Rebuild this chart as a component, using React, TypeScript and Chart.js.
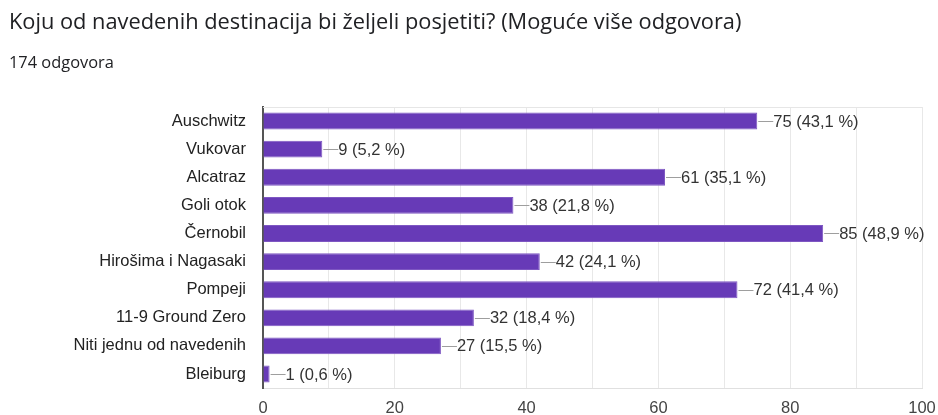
import React, { useEffect, useRef } from "react";
import { Chart, registerables } from "chart.js";

Chart.register(...registerables);

const TITLE = "Koju od navedenih destinacija bi željeli posjetiti? (Moguće više odgovora)";
const SUBTITLE = "174 odgovora";
const TOTAL = 174;
const categories = [
  "Auschwitz",
  "Vukovar",
  "Alcatraz",
  "Goli otok",
  "Černobil",
  "Hirošima i Nagasaki",
  "Pompeji",
  "11-9 Ground Zero",
  "Niti jednu od navedenih",
  "Bleiburg",
];
const counts = [75, 9, 61, 38, 85, 42, 72, 32, 27, 1];
const xTicks = [0, 20, 40, 60, 80, 100];

const SANS = '"Liberation Sans", Arial, sans-serif';
const LABEL_FONT = `16.5px ${SANS}`;

const decorPlugin = {
  id: "decor",
  beforeDatasetsDraw(chart: any) {
    const { ctx, chartArea } = chart;
    ctx.save();
    ctx.strokeStyle = "#e6e6e6";
    ctx.lineWidth = 1;
    ctx.beginPath();
    ctx.moveTo(chartArea.left, Math.round(chartArea.top) + 0.5);
    ctx.lineTo(chartArea.right, Math.round(chartArea.top) + 0.5);
    ctx.stroke();
    ctx.restore();
  },
  afterDatasetsDraw(chart: any) {
    const { ctx } = chart;
    const meta = chart.getDatasetMeta(0);
    ctx.save();
    ctx.font = LABEL_FONT;
    ctx.textBaseline = "middle";
    ctx.textAlign = "left";
    meta.data.forEach((bar: any, i: number) => {
      const v = counts[i];
      const pct = ((v / TOTAL) * 100).toFixed(1).replace(".", ",");
      const x = bar.x;
      const y = Math.round(bar.y) + 0.5;
      ctx.strokeStyle = "#9e9e9e";
      ctx.lineWidth = 1;
      ctx.beginPath();
      ctx.moveTo(x + 1, y);
      ctx.lineTo(x + 16, y);
      ctx.stroke();
      ctx.fillStyle = "#333333";
      ctx.fillText(`${v} (${pct} %)`, x + 16, bar.y + 1);
    });
    ctx.restore();
  },
  afterDraw(chart: any) {
    const { ctx } = chart;
    ctx.save();
    ctx.textBaseline = "middle";
    ctx.textAlign = "left";
    ctx.fillStyle = "#202124";
    ctx.font = '21.8px "Open Sans", Roboto, sans-serif';
    ctx.fillText(TITLE, 9, 23);
    ctx.font = '16.4px "Open Sans", Roboto, sans-serif';
    ctx.fillText(SUBTITLE, 9, 63);
    ctx.restore();
  },
};

export default function App() {
  const ref = useRef<HTMLCanvasElement | null>(null);
  useEffect(() => {
    if (!ref.current) return;
    const chart = new Chart(ref.current, {
      type: "bar",
      data: {
        labels: categories,
        datasets: [
          {
            data: counts,
            backgroundColor: "#673ab7",
            borderColor: "#7e57c2",
            borderWidth: 1,
            barPercentage: 0.6,
            categoryPercentage: 1,
          },
        ],
      },
      options: {
        indexAxis: "y",
        animation: false,
        responsive: true,
        maintainAspectRatio: false,
        layout: { padding: { top: 107, right: 16, bottom: 0, left: 0 } },
        plugins: {
          legend: { display: false },
          tooltip: { enabled: false },
          title: { display: false },
        },
        scales: {
          x: {
            min: 0,
            max: 100,
            afterFit: (s: any) => {
              s.height = 26;
              s.paddingLeft = 0;
              s.paddingRight = 0;
            },
            afterBuildTicks: (s: any) => {
              const t: any[] = [];
              for (let v = 0; v <= 100; v += 10) t.push({ value: v });
              s.ticks = t;
            },
            ticks: {
              autoSkip: false,
              maxRotation: 0,
              padding: 10,
              color: "#444",
              font: { family: SANS, size: 16.5 },
              callback: (v: any) => (xTicks.includes(Number(v)) ? String(v) : ""),
            },
            grid: { color: "#e8e8e8", drawTicks: false },
            border: { color: "#e0e0e0" },
          },
          y: {
            afterFit: (s: any) => {
              s.width = 263;
            },
            ticks: {
              padding: 17,
              color: "#222",
              font: { family: SANS, size: 16.5 },
            },
            grid: { display: false, drawTicks: false },
            border: { color: "#555", width: 2 },
          },
        },
      },
      plugins: [decorPlugin],
    });
    return () => chart.destroy();
  }, []);
  return (
    <div style={{ position: "fixed", left: 0, top: 0, width: 938, height: 415, background: "#fff" }}>
      <canvas ref={ref} />
    </div>
  );
}
